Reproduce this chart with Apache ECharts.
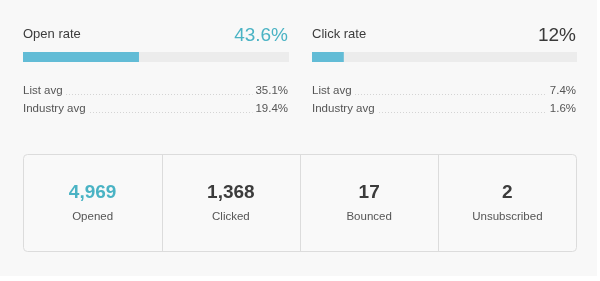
<!DOCTYPE html>
<html><head><meta charset="utf-8">
<script src="https://cdn.jsdelivr.net/npm/echarts@6/dist/echarts.min.js"></script>
<style>html,body{margin:0;padding:0;background:#fff}#c{width:600px;height:281px}</style>
</head><body><div id="c"></div>
<script>
var rateNames = ['Open rate', 'Click rate'];
var rateValues = [43.6, 12];
var rateLabels = ['43.6%', '12%'];
var listAvgLabels = ['35.1%', '7.4%'];
var industryAvgLabels = ['19.4%', '1.6%'];
var avgNames = ['List avg', 'Industry avg'];
var statNames = ['Opened', 'Clicked', 'Bounced', 'Unsubscribed'];
var statValues = [4969, 1368, 17, 2];

var FONT = '"Liberation Sans", Arial, sans-serif';
var TEAL = '#4ab3c4';
var chart = echarts.init(document.getElementById('c'), null, {renderer: 'canvas'});

var panels = [{left: 23, right: 289}, {left: 312, right: 577}];
var grids = [], xAxes = [], yAxes = [], series = [], graphics = [];

graphics.push({type: 'rect', shape: {x: 0, y: 0, width: 597, height: 276}, style: {fill: '#f8f8f8'}, z: -10});

function txt(x, y, s, font, fill, align) {
  return {type: 'text', x: x, y: y, style: {text: s, font: font, fill: fill, align: align || 'left', verticalAlign: 'middle'}};
}

panels.forEach(function (p, i) {
  grids.push({left: p.left, top: 52, width: p.right - p.left, height: 10});
  xAxes.push({type: 'value', gridIndex: i, min: 0, max: 100, show: false});
  yAxes.push({type: 'category', gridIndex: i, data: [rateNames[i]], show: false});
  series.push({
    type: 'bar', xAxisIndex: i, yAxisIndex: i, data: [rateValues[i]], barWidth: 10,
    showBackground: true, backgroundStyle: {color: '#ececec'},
    itemStyle: {color: '#62bcd6'}, silent: true
  });
  graphics.push(txt(p.left, 34, rateNames[i], '13px ' + FONT, '#3c3c3c'));
  graphics.push(txt(p.right - 1, 36, rateLabels[i], '19px ' + FONT, i === 0 ? TEAL : '#3a3a3a', 'right'));
  var avgVals = [listAvgLabels[i], industryAvgLabels[i]];
  var ys = [91, 109];
  avgNames.forEach(function (n, k) {
    graphics.push(txt(p.left, ys[k], n, '11.5px ' + FONT, '#555'));
    graphics.push(txt(p.right - 1, ys[k], avgVals[k], '11.5px ' + FONT, '#555', 'right'));
    var startX = p.left + (k === 0 ? 43 : 67);
    var endX = p.right - (avgVals[k].length * 6.3 + 5);
    graphics.push({type: 'line', shape: {x1: startX, y1: ys[k] + 3.5, x2: endX, y2: ys[k] + 3.5},
      style: {stroke: '#d4d4d4', lineWidth: 1, lineDash: [1, 2]}});
  });
});

// stats box
var bx = 23.5, by = 154.5, bw = 553, bh = 97;
graphics.push({type: 'rect', shape: {x: bx, y: by, width: bw, height: bh, r: 4}, style: {fill: '#f9f9f9', stroke: '#dcdcdc', lineWidth: 1}, z: -5});
var cellW = bw / statNames.length;
statNames.forEach(function (n, i) {
  var cx = bx + cellW * (i + 0.5);
  if (i > 0) {
    var dx = Math.round(bx + cellW * i) + 0.5;
    graphics.push({type: 'line', shape: {x1: dx, y1: by, x2: dx, y2: by + bh}, style: {stroke: '#dcdcdc', lineWidth: 1}});
  }
  graphics.push(txt(cx, 193, statValues[i].toLocaleString('en-US'), 'bold 19px ' + FONT, i === 0 ? TEAL : '#3c3c3c', 'center'));
  graphics.push(txt(cx, 217, n, '11.5px ' + FONT, '#555', 'center'));
});

chart.setOption({
  backgroundColor: '#ffffff',
  animation: false,
  grid: grids, xAxis: xAxes, yAxis: yAxes, series: series,
  graphic: graphics
});
</script></body></html>
